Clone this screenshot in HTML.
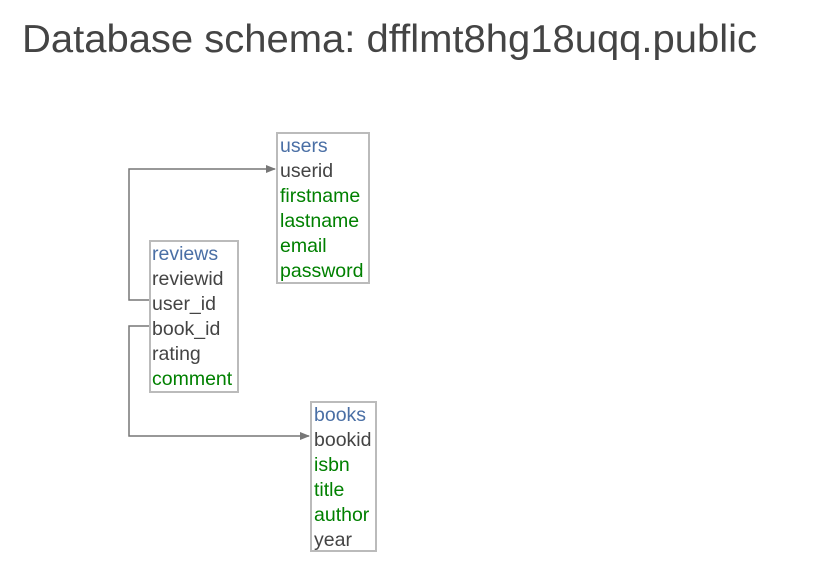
<!DOCTYPE html>
<html><head><meta charset="utf-8"><style>
html,body{margin:0;padding:0;background:#fff;}
svg{display:block;}
text{font-family:"Liberation Sans",Arial,sans-serif;}
</style></head><body>
<svg width="816" height="581" viewBox="0 0 816 581" xmlns="http://www.w3.org/2000/svg">
<text x="22" y="52" font-size="39" fill="#444" textLength="735" lengthAdjust="spacingAndGlyphs">Database schema: dfflmt8hg18uqq.public</text>
<defs><marker id="a" markerWidth="10" markerHeight="8" refX="9" refY="4" orient="auto" markerUnits="userSpaceOnUse"><path d="M0,0 L10,4 L0,8 z" fill="#777"/></marker></defs>
<g fill="none" stroke="#777" stroke-width="1.5">
<polyline points="149,300 129,300 129,169 275,169" marker-end="url(#a)"/>
<polyline points="149,326 129,326 129,436 309,436" marker-end="url(#a)"/>
</g>
<g fill="#fff" stroke="#bbb" stroke-width="2">
<rect x="277" y="133" width="92" height="150"/>
<rect x="150" y="241" width="88" height="151"/>
<rect x="311" y="402" width="65" height="149"/>
</g>
<g font-size="19.5">
<text x="280" y="152" fill="#4a6fa5">users</text>
<text x="280" y="177" fill="#444">userid</text>
<text x="280" y="202" fill="#008000">firstname</text>
<text x="280" y="227" fill="#008000">lastname</text>
<text x="280" y="252" fill="#008000">email</text>
<text x="280" y="277" fill="#008000">password</text>
<text x="152" y="260" fill="#4a6fa5">reviews</text>
<text x="152" y="285" fill="#444">reviewid</text>
<text x="152" y="310" fill="#444">user_id</text>
<text x="152" y="335" fill="#444">book_id</text>
<text x="152" y="360" fill="#444">rating</text>
<text x="152" y="385" fill="#008000">comment</text>
<text x="314" y="421" fill="#4a6fa5">books</text>
<text x="314" y="446" fill="#444">bookid</text>
<text x="314" y="471" fill="#008000">isbn</text>
<text x="314" y="496" fill="#008000">title</text>
<text x="314" y="521" fill="#008000">author</text>
<text x="314" y="546" fill="#444">year</text>
</g>
</svg>
</body></html>
